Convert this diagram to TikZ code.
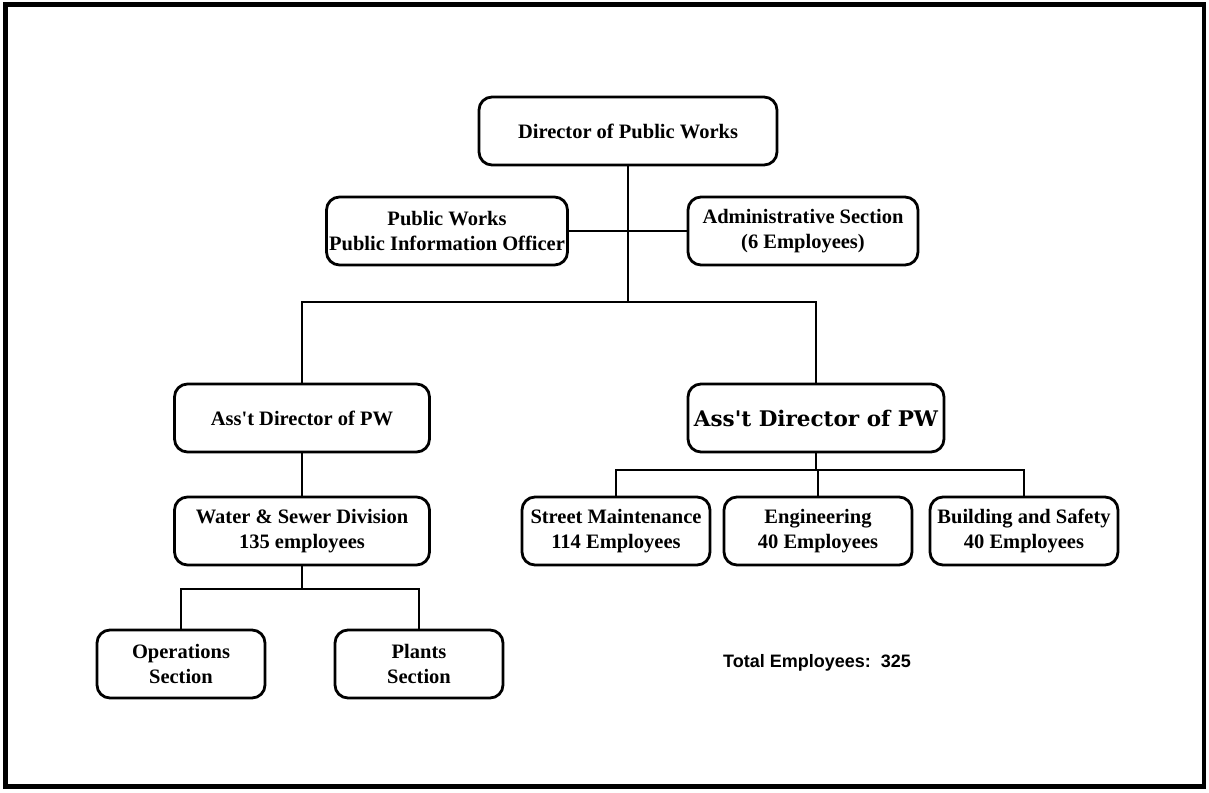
\documentclass[tikz,border=0pt]{standalone}
\usepackage{fontspec}
\setmainfont{Liberation Serif}
\setsansfont{Liberation Sans}
\newfontfamily\wideserif{DejaVu Serif}
\usetikzlibrary{calc}

\begin{document}
\begin{tikzpicture}[x=1pt, y=-1pt,
	box/.style={draw, line width=2.8pt, rounded corners=13pt, align=center,
		minimum height=68pt, inner sep=1pt,
		font=\fontsize{20.5}{25}\selectfont\bfseries},
	link/.style={line width=2.6pt}]
	
	% ----- frame
	\useasboundingbox (0,0) rectangle (1209,792);
	\draw[line width=4.5pt] (5.5,4.5) rectangle (1204,786.5);
	
	% ----- top level
	\node[box, minimum width=298pt] (dir) at (628,131) {Director of Public Works};
	\node[box, minimum width=241pt] (pio) at (447,231) {Public Works\\Public Information Officer};
	\node[box, minimum width=230pt] (adm) at (803,231) {Administrative Section\\(6 Employees)};
	
	% ----- assistant directors
	\node[box, minimum width=255pt] (adL) at (302,418) {Ass\textquotesingle t Director of PW};
	\node[box, minimum width=256pt, font=\fontsize{21.5}{25}\selectfont\bfseries\wideserif]
		(adR) at (816,418) {Ass't Director of PW};
	
	% ----- left branch
	\node[box, minimum width=255pt] (ws) at (302,531) {Water \& Sewer Division\\135 employees};
	\node[box, minimum width=168pt] (ops) at (181,664) {Operations\\Section};
	\node[box, minimum width=168pt] (plants) at (419,664) {Plants\\Section};
	
	% ----- right branch
	\node[box, minimum width=188pt] (street) at (616,531) {Street Maintenance\\114 Employees};
	\node[box, minimum width=188pt] (eng) at (818,531) {Engineering\\40 Employees};
	\node[box, minimum width=188pt] (bldg) at (1024,531) {Building and Safety\\40 Employees};
	
	% total
	\node[font=\sffamily\bfseries\fontsize{18}{20}\selectfont] (total) at (817,663) {Total Employees:~~325};
	
	% ----- connectors
	\coordinate (hub) at (628,302);
	\coordinate (wsbar) at (302,589);
	\coordinate (rbar) at (816,470);
	
	\draw[link] (dir.south) -- (hub);
	\draw[link] (pio.east) -- (adm.west);
	\draw[link] (adL.north) |- (hub) -| (adR.north);
	\draw[link] (adL.south) -- (ws.north);
	\draw[link] (ws.south) -- (wsbar);
	\draw[link] (ops.north) |- (wsbar) -| (plants.north);
	\draw[link] (adR.south) -- (rbar);
	\draw[link] (street.north) |- (rbar) -| (bldg.north);
	\draw[link] (eng.north |- rbar) -- (eng.north);
	
\end{tikzpicture}
\end{document}
